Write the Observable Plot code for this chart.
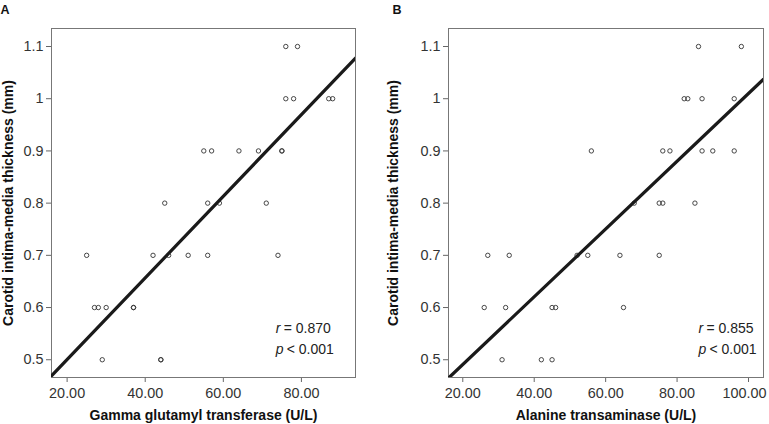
<!DOCTYPE html>
<html>
<head>
<meta charset="utf-8">
<script src="https://cdn.jsdelivr.net/npm/d3@7"></script>
<script src="https://cdn.jsdelivr.net/npm/@observablehq/plot@0.6"></script>
<style>
  html, body { margin: 0; padding: 0; background: #fff; }
  #wrap { display: flex; width: 769px; height: 424px; }
  svg { font-family: "Liberation Sans", Arial, sans-serif; }
  g[aria-label="x-axis label"] text, g[aria-label="y-axis label"] text { font-weight: bold; fill: #111; font-size: 14px; }
  g[aria-label="x-axis tick label"] text, g[aria-label="y-axis tick label"] text { fill: #333; font-size: 14.4px; }
</style>
</head>
<body>
<div id="wrap"></div>
<script>
// Panel A: Gamma glutamyl transferase vs CIMT
const ggtA = [76, 79, 76, 78, 87, 88, 55, 57, 64, 69, 75, 75, 45, 56, 59, 71, 25, 42, 46, 51, 56, 74, 27, 28, 30, 37, 37, 29, 44, 44];
const cimtA = [1.1, 1.1, 1.0, 1.0, 1.0, 1.0, 0.9, 0.9, 0.9, 0.9, 0.9, 0.9, 0.8, 0.8, 0.8, 0.8, 0.7, 0.7, 0.7, 0.7, 0.7, 0.7, 0.6, 0.6, 0.6, 0.6, 0.6, 0.5, 0.5, 0.5];
// Panel B: Alanine transaminase vs CIMT
const altB = [86, 98, 82, 83, 87, 96, 56, 76, 78, 87, 90, 96, 68, 75, 76, 85, 27, 33, 52, 55, 64, 75, 26, 32, 45, 46, 65, 31, 42, 45];
const cimtB = [1.1, 1.1, 1.0, 1.0, 1.0, 1.0, 0.9, 0.9, 0.9, 0.9, 0.9, 0.9, 0.8, 0.8, 0.8, 0.8, 0.7, 0.7, 0.7, 0.7, 0.7, 0.7, 0.6, 0.6, 0.6, 0.6, 0.6, 0.5, 0.5, 0.5];
// Fitted lines (intercept, slope) as drawn
const fitA = [0.344, 0.00782];
const fitB = [0.361, 0.00649];
const statsA = ["0.870", "0.001"];
const statsB = ["0.855", "0.001"];
const yTicks = [0.5, 0.6, 0.7, 0.8, 0.9, 1.0, 1.1];
const yTickLabels = ["0.5", "0.6", "0.7", "0.8", "0.9", "1", "1.1"];
const xTicksA = [20, 40, 60, 80];
const xTicksB = [20, 40, 60, 80, 100];
const yLabel = "Carotid intima-media thickness (mm)";
const xLabelA = "Gamma glutamyl transferase (U/L)";
const xLabelB = "Alanine transaminase (U/L)";
const panelLabels = ["A", "B"];

function panel({xs, ys, fit, stats, xDomain, xTicks, xLabel, width, marginLeft, marginRight, letter, statX}) {
  const data = xs.map((x, i) => ({x, y: ys[i]}));
  const lineData = xDomain.map(x => ({x, y: fit[0] + fit[1] * x}));
  const yDomain = [0.466, 1.1345];
  const svg = Plot.plot({
    width, height: 424,
    marginLeft, marginRight, marginTop: 28, marginBottom: 47,
    style: {fontSize: "13px", fontFamily: "Liberation Sans, Arial, sans-serif", background: "#fff"},
    x: {domain: xDomain},
    y: {domain: yDomain},
    marks: [
      Plot.axisY({ticks: yTicks, tickFormat: d => yTickLabels[yTicks.indexOf(d)] ?? String(d), tickSize: 5, tickPadding: 3, stroke: "#666",
        label: yLabel, labelAnchor: "center", labelArrow: "none"}),
      Plot.axisX({ticks: xTicks, tickFormat: d3.format(".2f"), tickSize: 5, tickPadding: 5, stroke: "#666",
        label: xLabel, labelAnchor: "center", labelArrow: "none", labelOffset: 42}),
      Plot.frame({stroke: "#777", strokeWidth: 1}),
      Plot.dot(data, {x: "x", y: "y", r: 2.2, stroke: "#333", strokeWidth: 0.9, fill: "none"}),
      Plot.line(lineData, {x: "x", y: "y", stroke: "#1a1a1a", strokeWidth: 3.2, clip: true}),
      Plot.text(["r"], {x: statX, y: 0.56, text: d => d, fontStyle: "italic", textAnchor: "start", fontSize: 14, fill: "#222"}),
      Plot.text(["= " + stats[0]], {x: statX, y: 0.56, text: d => d, dx: 8, textAnchor: "start", fontSize: 14, fill: "#222"}),
      Plot.text(["p"], {x: statX, y: 0.519, text: d => d, fontStyle: "italic", textAnchor: "start", fontSize: 14, fill: "#222"}),
      Plot.text(["< " + stats[1]], {x: statX, y: 0.519, text: d => d, dx: 11, textAnchor: "start", fontSize: 14, fill: "#222"}),
    ]
  });
  const d3svg = d3.select(svg);
  d3svg.append("text").attr("x", letter[1]).attr("y", 14).text(letter[0])
    .attr("font-weight", "bold").attr("font-size", 12.5).attr("fill", "#111");
  return svg;
}

const wrap = document.getElementById("wrap");
wrap.appendChild(panel({xs: ggtA, ys: cimtA, fit: fitA, stats: statsA, xDomain: [16, 93.85], xTicks: xTicksA, xLabel: xLabelA,
  width: 385, marginLeft: 51, marginRight: 30, letter: [panelLabels[0], 5], statX: 73.4}));
const svgB = panel({xs: altB, ys: cimtB, fit: fitB, stats: statsB, xDomain: [16, 104.2], xTicks: xTicksB, xLabel: xLabelB,
  width: 384, marginLeft: 63, marginRight: 6, letter: [panelLabels[1], 12], statX: 86});
wrap.appendChild(svgB);
// keep the last x tick label inside the picture, as in the reference
const tickTexts = svgB.querySelectorAll('g[aria-label="x-axis tick label"] text');
if (tickTexts.length) tickTexts[tickTexts.length - 1].setAttribute("dx", "-4");
</script>
</body>
</html>
